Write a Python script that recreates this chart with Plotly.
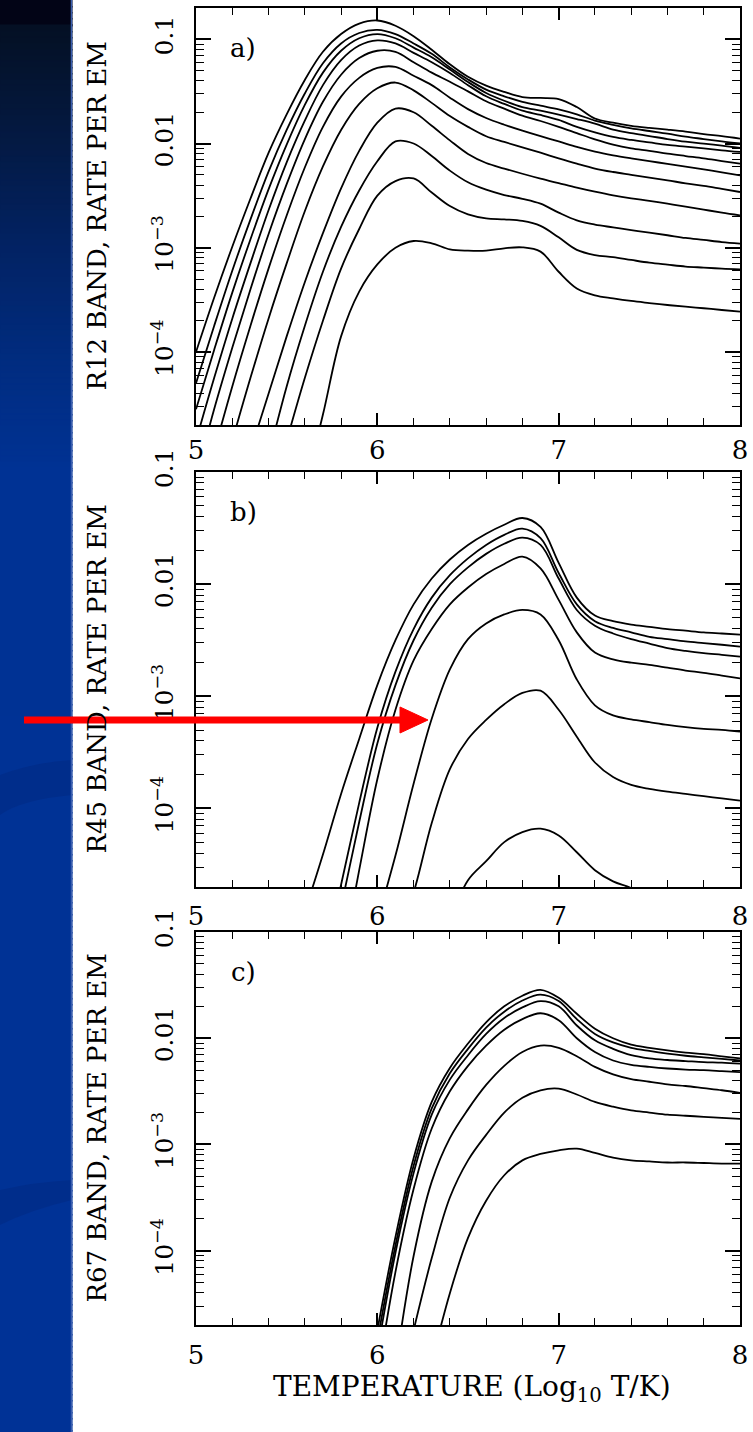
import plotly.graph_objects as go

W, H = 753, 1432
FONT = "DejaVu Serif"
N = None

# ---------------- data (log10 of rate per EM) ----------------
log_temperature = [5.0, 5.1, 5.2, 5.3, 5.4, 5.5, 5.6, 5.7, 5.8, 5.9,
                   6.0, 6.1, 6.2, 6.3, 6.4, 6.5, 6.6, 6.7, 6.8, 6.9,
                   7.0, 7.1, 7.2, 7.3, 7.4, 7.5, 7.6, 7.7, 7.8, 7.9, 8.0]

# Panel a) R12 band
r12_1 = [-4.00, -3.48, -2.99, -2.53, -2.09, -1.72, -1.39, -1.12, -0.95, -0.85,
         -0.82, -0.87, -0.97, -1.10, -1.24, -1.36, -1.445, -1.505, -1.554, -1.563,
         -1.573, -1.65, -1.76, -1.80, -1.83, -1.85, -1.867, -1.886, -1.91, -1.93, -1.953]
r12_2 = [-4.30, -3.75, -3.22, -2.73, -2.27, -1.87, -1.52, -1.23, -1.04, -0.94,
         -0.91, -0.95, -1.04, -1.14, -1.27, -1.385, -1.483, -1.547, -1.60, -1.637,
         -1.672, -1.72, -1.78, -1.82, -1.854, -1.88, -1.905, -1.934, -1.957, -1.98, -2.00]
r12_3 = [-4.55, -3.98, -3.43, -2.92, -2.44, -2.01, -1.63, -1.32, -1.11, -0.99,
         -0.95, -0.99, -1.08, -1.173, -1.29, -1.41, -1.515, -1.59, -1.65, -1.685,
         -1.723, -1.765, -1.81, -1.867, -1.90, -1.928, -1.957, -1.982, -2.00, -2.02, -2.043]
r12_4 = [-4.85, -4.25, -3.68, -3.15, -2.64, -2.18, -1.78, -1.44, -1.20, -1.06,
         -1.01, -1.04, -1.13, -1.22, -1.323, -1.44, -1.547, -1.62, -1.685, -1.726,
         -1.774, -1.84, -1.893, -1.937, -1.966, -1.99, -2.014, -2.03, -2.046, -2.065, -2.081]
r12_5 = [-5.20, -4.55, -3.96, -3.40, -2.87, -2.39, -1.96, -1.60, -1.34, -1.18,
         -1.11, -1.12, -1.22, -1.32, -1.407, -1.50, -1.595, -1.666, -1.733, -1.784,
         -1.84, -1.90, -1.96, -2.01, -2.046, -2.07, -2.097, -2.12, -2.142, -2.168, -2.193]
r12_6 = [N, -4.95, -4.33, -3.75, -3.20, -2.69, -2.23, -1.84, -1.55, -1.37,
         -1.275, -1.265, -1.35, -1.44, -1.56, -1.67, -1.755, -1.82, -1.877, -1.93,
         -1.98, -2.033, -2.078, -2.113, -2.142, -2.168, -2.196, -2.222, -2.248, -2.276, -2.305]
r12_7 = [N, N, -4.85, -4.25, -3.68, -3.15, -2.65, -2.22, -1.87, -1.62,
         -1.47, -1.415, -1.49, -1.61, -1.736, -1.84, -1.93, -1.985, -2.037, -2.088,
         -2.142, -2.193, -2.24, -2.273, -2.30, -2.327, -2.353, -2.382, -2.407, -2.436, -2.465]
r12_8 = [N, N, N, -4.95, -4.40, -3.85, -3.33, -2.86, -2.43, -2.07,
         -1.80, -1.665, -1.70, -1.83, -1.97, -2.10, -2.187, -2.24, -2.29, -2.337,
         -2.38, -2.423, -2.462, -2.497, -2.526, -2.55, -2.577, -2.606, -2.634, -2.663, -2.689]
r12_9 = [N, N, N, N, -5.00, -4.33, -3.75, -3.23, -2.80, -2.45,
         -2.17, -1.98, -2.00, -2.12, -2.26, -2.372, -2.443, -2.494, -2.53, -2.577,
         -2.663, -2.737, -2.778, -2.804, -2.83, -2.855, -2.88, -2.906, -2.925, -2.945, -2.96]
r12_10 = [N, N, N, N, N, -4.85, -4.25, -3.70, -3.20, -2.82,
          -2.50, -2.36, -2.335, -2.47, -2.60, -2.68, -2.718, -2.728, -2.743, -2.79,
          -2.90, -3.02, -3.07, -3.09, -3.117, -3.143, -3.162, -3.18, -3.19, -3.20, -3.207]
r12_11 = [N, N, N, N, N, N, -5.30, -4.60, -3.85, -3.42,
          -3.16, -3.00, -2.935, -2.957, -3.015, -3.028, -3.028, -3.005, -2.996, -3.037,
          -3.23, -3.39, -3.456, -3.485, -3.51, -3.53, -3.549, -3.565, -3.58, -3.597, -3.613]

# Panel b) R45 band
r45_1 = [N, N, N, N, N, N, -4.92, -4.41, -3.87, -3.38,
         -2.90, -2.50, -2.18, -1.95, -1.78, -1.65, -1.55, -1.47, -1.41, -1.49,
         -1.81, -2.12, -2.28, -2.33, -2.36, -2.38, -2.40, -2.415, -2.43, -2.44, -2.45]
r45_2 = [N, N, N, N, N, N, N, -5.40, -4.68, -3.95,
         -3.28, -2.78, -2.40, -2.12, -1.92, -1.77, -1.65, -1.56, -1.505, -1.59,
         -1.90, -2.18, -2.33, -2.39, -2.43, -2.47, -2.49, -2.51, -2.525, -2.54, -2.557]
r45_3 = [N, N, N, N, N, N, N, -5.60, -4.88, -4.12,
         -3.42, -2.90, -2.50, -2.21, -2.00, -1.85, -1.73, -1.64, -1.585, -1.65,
         -1.95, -2.23, -2.37, -2.44, -2.49, -2.53, -2.57, -2.595, -2.615, -2.63, -2.646]
r45_4 = [N, N, N, N, N, N, N, N, -5.40, -4.55,
         -3.74, -3.12, -2.68, -2.40, -2.18, -2.03, -1.91, -1.82, -1.755, -1.86,
         -2.14, -2.43, -2.61, -2.67, -2.70, -2.72, -2.745, -2.77, -2.79, -2.815, -2.84]
r45_5 = [N, N, N, N, N, N, N, N, N, N,
         -5.00, -4.42, -3.78, -3.20, -2.76, -2.49, -2.35, -2.27, -2.23, -2.27,
         -2.50, -2.85, -3.08, -3.17, -3.205, -3.23, -3.255, -3.275, -3.29, -3.30, -3.315]
r45_6 = [N, N, N, N, N, N, N, N, N, N,
         N, -5.20, -4.75, -4.13, -3.65, -3.38, -3.21, -3.07, -2.97, -2.95,
         -3.12, -3.36, -3.59, -3.72, -3.79, -3.825, -3.85, -3.87, -3.89, -3.91, -3.93]
r45_7 = [N, N, N, N, N, N, N, N, N, N,
         N, N, N, N, -5.00, -4.64, -4.47, -4.30, -4.21, -4.18,
         -4.24, -4.39, -4.55, -4.65, -4.71, -4.80, -4.90, N, N, N, N]

# Panel c) R67 band
r67_1 = [N, N, N, N, N, N, N, N, N, N,
         -4.75, -3.87, -3.13, -2.60, -2.28, -2.05, -1.85, -1.70, -1.60, -1.545,
         -1.62, -1.77, -1.91, -2.00, -2.06, -2.09, -2.115, -2.135, -2.15, -2.17, -2.19]
r67_2 = [N, N, N, N, N, N, N, N, N, N,
         -4.85, -3.95, -3.20, -2.66, -2.33, -2.10, -1.90, -1.75, -1.645, -1.59,
         -1.65, -1.82, -1.96, -2.04, -2.09, -2.12, -2.145, -2.165, -2.18, -2.195, -2.21]
r67_3 = [N, N, N, N, N, N, N, N, N, N,
         -4.95, -4.02, -3.27, -2.72, -2.39, -2.16, -1.96, -1.81, -1.71, -1.65,
         -1.70, -1.88, -2.02, -2.10, -2.16, -2.19, -2.205, -2.215, -2.225, -2.23, -2.24]
r67_4 = [N, N, N, N, N, N, N, N, N, N,
         -5.20, -4.20, -3.42, -2.85, -2.50, -2.26, -2.07, -1.92, -1.82, -1.765,
         -1.83, -2.00, -2.13, -2.21, -2.25, -2.27, -2.285, -2.295, -2.30, -2.31, -2.32]
r67_5 = [N, N, N, N, N, N, N, N, N, N,
         N, -5.10, -4.05, -3.35, -2.94, -2.67, -2.44, -2.26, -2.13, -2.07,
         -2.09, -2.17, -2.27, -2.34, -2.385, -2.41, -2.435, -2.45, -2.47, -2.49, -2.515]
r67_6 = [N, N, N, N, N, N, N, N, N, N,
         N, -5.50, -4.75, -4.07, -3.50, -3.15, -2.91, -2.70, -2.56, -2.49,
         -2.475, -2.53, -2.60, -2.645, -2.68, -2.70, -2.72, -2.73, -2.74, -2.75, -2.76]
r67_7 = [N, N, N, N, N, N, N, N, N, N,
         N, N, N, -5.05, -4.40, -3.88, -3.53, -3.29, -3.15, -3.09,
         -3.055, -3.04, -3.08, -3.125, -3.15, -3.16, -3.17, -3.17, -3.175, -3.18, -3.18]

x_ticks = [5, 6, 7, 8]
y_tickvals = [1e-4, 1e-3, 1e-2, 1e-1]
y_ticktext = ["10<sup>\u22124</sup>", "10<sup>\u22123</sup>", "0.01", "0.1"]
y_titles = ["R12 BAND, RATE PER EM", "R45 BAND, RATE PER EM", "R67 BAND, RATE PER EM"]
panel_tags = ["a)", "b)", "c)"]
x_title = "TEMPERATURE (Log<sub>10</sub> T/K)"


def to_rate(logs):
    return [None if v is None else 10 ** v for v in logs]


def px(xp):
    return xp / W


def py(yp):
    return 1 - yp / H


# ---------------- layout geometry (pixels) ----------------
X_LEFT, X_RIGHT = 196, 740
panels = [
    dict(series=[r12_1, r12_2, r12_3, r12_4, r12_5, r12_6, r12_7, r12_8, r12_9, r12_10, r12_11],
         top=8, bottom=425, yrange=[-4.70, -0.70], standoff=1),
    dict(series=[r45_1, r45_2, r45_3, r45_4, r45_5, r45_6, r45_7],
         top=472, bottom=887, yrange=[-4.70, -1.0], standoff=5),
    dict(series=[r67_1, r67_2, r67_3, r67_4, r67_5, r67_6, r67_7],
         top=932, bottom=1325, yrange=[-4.70, -1.0], standoff=6),
]

minor_y = [m * 10 ** e for e in (-5, -4, -3, -2, -1) for m in range(2, 10)]

fig = go.Figure()
layout_axes = {}
annotations = []
for i, p in enumerate(panels):
    sfx = "" if i == 0 else str(i + 1)
    xa, ya = "x" + sfx, "y" + sfx
    for s in p["series"]:
        fig.add_trace(go.Scatter(
            x=log_temperature, y=to_rate(s), mode="lines",
            line=dict(color="black", width=1.8, shape="spline", smoothing=1.0),
            xaxis=xa, yaxis=ya, showlegend=False, hoverinfo="skip"))
    layout_axes["xaxis" + sfx] = dict(
        domain=[px(X_LEFT), px(X_RIGHT)], range=[5, 8], anchor=ya,
        automargin=False,
        tickmode="array", tickvals=x_ticks,
        ticks="inside", ticklen=12, tickwidth=1.6, tickcolor="black",
        minor=dict(ticks="inside", ticklen=7, tickwidth=1.3, tickcolor="black",
                   dtick=0.2, tick0=5, showgrid=False),
        showline=True, linecolor="black", linewidth=2, mirror="ticks",
        showgrid=False, zeroline=False,
        tickfont=dict(family=FONT, size=26, color="black"),
        ticklabelstandoff=p["standoff"])
    layout_axes["yaxis" + sfx] = dict(
        domain=[py(p["bottom"]), py(p["top"])], type="log", range=p["yrange"],
        anchor=xa, automargin=False,
        tickmode="array", tickvals=y_tickvals, ticktext=y_ticktext,
        tickangle=-90,
        ticks="inside", ticklen=15, tickwidth=1.6, tickcolor="black",
        minor=dict(ticks="inside", ticklen=8, tickwidth=1.3, tickcolor="black",
                   tickvals=minor_y, showgrid=False),
        showline=True, linecolor="black", linewidth=2, mirror="ticks",
        showgrid=False, zeroline=False,
        tickfont=dict(family=FONT, size=25, color="black"),
        ticklabelstandoff=11)
    mid = (p["top"] + p["bottom"]) / 2
    annotations.append(dict(
        text=y_titles[i], x=px(96), y=py(mid), xref="paper", yref="paper",
        textangle=-90, showarrow=False, xanchor="center", yanchor="middle",
        font=dict(family=FONT, size=26, color="black")))
    annotations.append(dict(
        text=panel_tags[i], x=px(243), y=py(p["top"] + 40), xref="paper", yref="paper",
        showarrow=False, xanchor="center", yanchor="middle",
        font=dict(family=FONT, size=26, color="black")))

annotations.append(dict(
    text=x_title, x=px(472), y=py(1388), xref="paper", yref="paper",
    showarrow=False, xanchor="center", yanchor="middle",
    font=dict(family=FONT, size=28, color="black")))

# ---------------- background band (slide) ----------------
shapes = []
stops = [(0, (2, 4, 22)), (24, (2, 4, 22)), (25, (4, 16, 36)), (120, (4, 24, 62)),
         (240, (2, 34, 98)), (360, (1, 44, 128)), (470, (0, 50, 148)), (1432, (0, 50, 150))]
step = 6
for (y0, c0), (y1, c1) in zip(stops[:-1], stops[1:]):
    yy = y0
    while yy < y1:
        yn = min(yy + step, y1)
        t = (yy - y0) / max(y1 - y0, 1)
        col = tuple(round(c0[k] + (c1[k] - c0[k]) * t) for k in range(3))
        shapes.append(dict(type="rect", xref="paper", yref="paper",
                           x0=0, x1=px(72), y0=py(yn + 1.5), y1=py(yy),
                           fillcolor="rgb(%d,%d,%d)" % col,
                           line=dict(width=1, color="rgb(%d,%d,%d)" % col),
                           layer="below"))
        yy = yn
# subtle swooshes
shapes.append(dict(type="path", xref="paper", yref="paper", layer="below",
                   path="M %f %f Q %f %f %f %f L %f %f Q %f %f %f %f Z" % (
                       px(0), py(775), px(35), py(762), px(72), py(760),
                       px(72), py(795), px(20), py(800), px(0), py(815)),
                   fillcolor="rgba(0,36,120,0.35)", line=dict(width=0)))
shapes.append(dict(type="path", xref="paper", yref="paper", layer="below",
                   path="M %f %f Q %f %f %f %f L %f %f Q %f %f %f %f Z" % (
                       px(0), py(1190), px(35), py(1182), px(72), py(1180),
                       px(72), py(1200), px(30), py(1210), px(0), py(1225)),
                   fillcolor="rgba(0,36,120,0.35)", line=dict(width=0)))
shapes.append(dict(type="line", xref="paper", yref="paper", x0=px(71.5), x1=px(71.5),
                   y0=0, y1=1, line=dict(color="rgb(60,95,175)", width=1.5), layer="below"))

# ---------------- red arrow ----------------
shapes.append(dict(type="line", xref="paper", yref="paper",
                   x0=px(24), x1=px(403), y0=py(720), y1=py(720),
                   line=dict(color="#ff0000", width=7)))
shapes.append(dict(type="path", xref="paper", yref="paper",
                   path="M %f %f L %f %f L %f %f Z" % (px(400), py(707), px(428), py(720),
                                                       px(400), py(733)),
                   fillcolor="#ff0000", line=dict(color="#ff0000", width=1)))

fig.update_layout(
    template="none",
    width=W, height=H, margin=dict(l=0, r=0, t=0, b=0, autoexpand=False),
    paper_bgcolor="white", plot_bgcolor="white",
    font=dict(family=FONT, color="black"),
    shapes=shapes, annotations=annotations, showlegend=False,
    **layout_axes)

fig.write_html("out.html")
